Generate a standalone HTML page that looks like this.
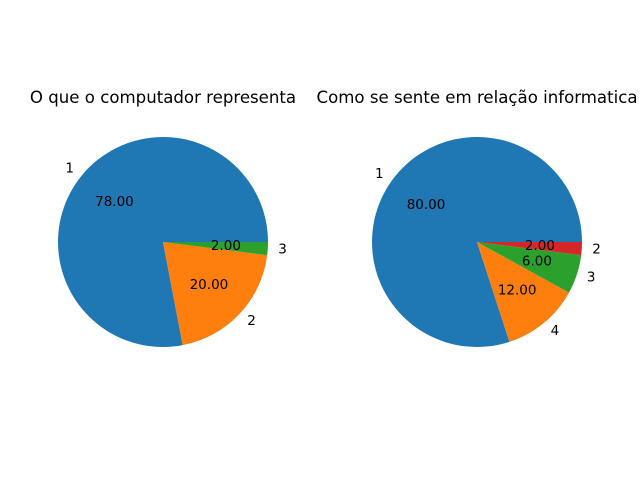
<!DOCTYPE html>
<html><head><meta charset="utf-8"><style>
body{margin:0;background:#fff}
svg{display:block;font-family:"DejaVu Sans","Liberation Sans",sans-serif}
</style></head><body>
<svg id="chart" width="640" height="480" viewBox="0 0 640 480"></svg>
<script>
const leftTitle = "O que o computador representa";
const leftLabels = ["1","2","3"];
const leftValues = [78,20,2];
const rightTitle = "Como se sente em relação informatica";
const rightLabels = ["1","4","3","2"];
const rightValues = [80,12,6,2];
const colors = ["#1f77b4","#ff7f0e","#2ca02c","#d62728"];
const NS="http://www.w3.org/2000/svg";
const svg=document.getElementById('chart');
function mk(tag,attrs,parent){const e=document.createElementNS(NS,tag);for(const k in attrs)e.setAttribute(k,attrs[k]);parent.appendChild(e);return e;}
function drawPie(cx,cy,r,title,labels,values,name){
  const g=mk('g',{},svg);
  
  
  const t=mk('text',{x:cx,y:103,'text-anchor':'middle','font-size':16.6,fill:'#000'},g);
  t.textContent=title;
  
  
  const total=values.reduce((a,b)=>a+b,0);
  let a0=0;
  values.forEach((v,i)=>{
    const a1=a0+v/total*2*Math.PI;
    const x0=cx+r*Math.cos(a0),y0=cy-r*Math.sin(a0);
    const x1=cx+r*Math.cos(a1),y1=cy-r*Math.sin(a1);
    const large=(a1-a0)>Math.PI?1:0;
    const p=mk('path',{d:`M${cx},${cy} L${x0},${y0} A${r},${r} 0 ${large} 0 ${x1},${y1} Z`,fill:colors[i%colors.length]},g);
    
    
    const am=(a0+a1)/2;
    const lx=cx+1.1*r*Math.cos(am),ly=cy-1.1*r*Math.sin(am);
    const lt=mk('text',{x:lx,y:ly+4,'text-anchor':Math.cos(am)>=0?'start':'end','font-size':13.5,fill:'#000'},g);
    lt.textContent=labels[i];
    
    
    const px=cx+0.6*r*Math.cos(am),py=cy-0.6*r*Math.sin(am);
    const pt=mk('text',{x:px,y:py+4,'text-anchor':'middle','font-size':13.5,fill:'#000'},g);
    pt.textContent=(v/total*100).toFixed(2);
    
    
    a0=a1;
  });
}
drawPie(163,242,105,leftTitle,leftLabels,leftValues,'left-pie');
drawPie(477,242,105,rightTitle,rightLabels,rightValues,'right-pie');
</script>
</body></html>
